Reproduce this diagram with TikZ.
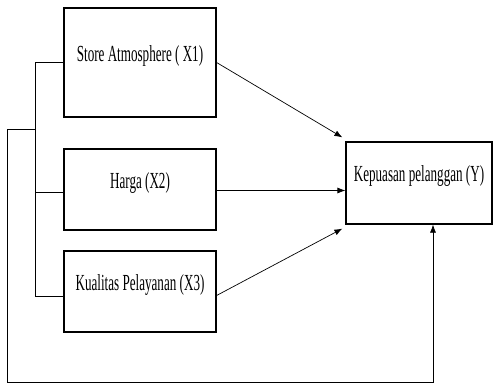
\documentclass[tikz,border=0pt]{standalone}
\usepackage{fontspec}
\setmainfont[FakeStretch=0.57]{Liberation Serif}
\usepackage{tikz}
\usetikzlibrary{arrows.meta, positioning}

\begin{document}
\begin{tikzpicture}[
  x=1pt, y=-1pt,
  box/.style={draw, line width=1.2pt, minimum width=152pt, minimum height=81pt, inner sep=0pt,
    text depth=18pt, font=\fontsize{23}{27}\selectfont},
  arr/.style={-{Latex[length=8pt,width=6pt]}, line width=0.7pt},
  line/.style={line width=0.7pt}
]
\useasboundingbox (0,0) rectangle (494,385);
\node[box, minimum height=109pt] (x1) at (140,62.5) {Store Atmosphere ( X1)};
\node[box] (x2) at (140,189.5) {Harga (X2)};
\node[box] (x3) at (140,291.5) {Kualitas Pelayanan (X3)};
\node[box, minimum width=146pt, minimum height=82pt] (y) at (419,183) {Kepuasan pelanggan (Y)};

% variabel ke Y
\draw[arr] (x1.east) -- ([xshift=-3pt,yshift=4pt]y.north west);
\draw[arr] ([yshift=-1pt]x2.east) -- ([yshift=-1pt]x2.east -| y.west);
\draw[arr] ([yshift=-4pt]x3.east) -- ([xshift=-3pt,yshift=-4pt]y.south west);

% kurung kiri
\coordinate (kb) at (35,62.5);
\draw[line] (x1.west) -- (kb) |- ([yshift=-5pt]x3.west);
\draw[line] (kb |- 0,192) -- ([yshift=-2.5pt]x2.west);

% simultan
\coordinate (sm) at (35,129);
\coordinate (lo) at (7,382);
\coordinate (ys) at ([xshift=14pt]y.south);
\draw[arr] (sm) -| (lo) -| (ys);
\end{tikzpicture}
\end{document}
